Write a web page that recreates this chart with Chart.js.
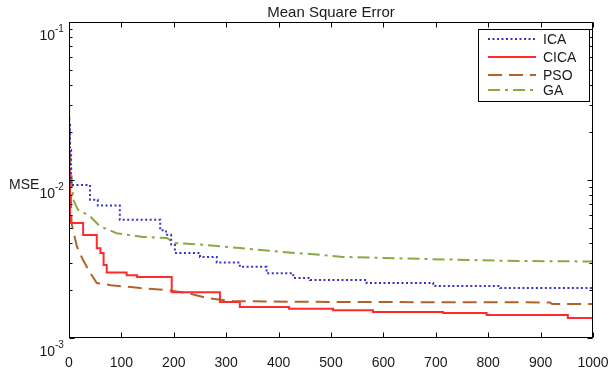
<!DOCTYPE html>
<html><head><meta charset="utf-8">
<script src="https://cdn.jsdelivr.net/npm/chart.js@4.4.0/dist/chart.umd.min.js"></script>
<style>html,body{margin:0;padding:0;background:#fff}#wrap{width:610px;height:373px}</style>
</head><body><div id="wrap"><canvas id="c" width="610" height="373"></canvas></div>
<script>
const chartTitle = 'Mean Square Error';
const yAxisLabel = 'MSE';
const seriesNames = ['ICA', 'CICA', 'PSO', 'GA'];
const xTickValues = [0, 100, 200, 300, 400, 500, 600, 700, 800, 900, 1000];
const xTickLabels = ['0', '100', '200', '300', '400', '500', '600', '700', '800', '900', '1000'];
const yTickValues = [0.001, 0.01, 0.1];
const yTickBase = ['10', '10', '10'];
const yTickExp = ['-3', '-2', '-1'];

const icaIter = [0, 2, 4, 40, 55, 97, 174, 185, 195, 202, 250, 282, 326, 377, 428, 460, 568, 695, 823, 1000];
const icaMse = [0.0223, 0.0155, 0.0093, 0.0075, 0.0069, 0.0056, 0.0048, 0.0045, 0.0039, 0.00345, 0.00326, 0.0030, 0.00282, 0.00257, 0.0024, 0.00233, 0.00223, 0.00213, 0.00207, 0.00205];

const cicaIter = [0, 2, 27, 53, 60, 66, 72, 110, 130, 196, 288, 326, 420, 504, 580, 714, 797, 952, 1000];
const cicaMse = [0.0116, 0.00535, 0.00449, 0.0037, 0.00345, 0.0029, 0.0026, 0.0025, 0.00243, 0.00195, 0.00169, 0.00157, 0.00153, 0.0015, 0.00146, 0.00144, 0.0014, 0.00134, 0.00134];

const psoIter = [0, 2, 5, 15, 27, 40, 53, 80, 136, 187, 225, 264, 314, 500, 918, 922, 1000];
const psoMse = [0.0277, 0.012, 0.0053, 0.0038, 0.0031, 0.0026, 0.00223, 0.00216, 0.00207, 0.00201, 0.00193, 0.00179, 0.00171, 0.00169, 0.00168, 0.00164, 0.00164];

const gaIter = [0, 2, 8, 17, 40, 59, 91, 141, 187, 200, 260, 326, 408, 460, 523, 683, 855, 1000];
const gaMse = [0.032, 0.015, 0.0075, 0.0065, 0.0059, 0.0051, 0.0046, 0.00436, 0.0043, 0.0040, 0.00388, 0.00371, 0.0035, 0.0034, 0.00326, 0.00316, 0.00307, 0.00305];

const FONT = '"Liberation Sans", Arial, Helvetica, sans-serif';
const TXT = '#1a1a1a';

function pts(xs, ys) { return xs.map((v, i) => ({ x: v, y: ys[i] })); }

const decor = {
  id: 'decor',
  afterDatasetsDraw(chart) {
    const { ctx, chartArea: a, scales: { x, y } } = chart;
    const L = Math.round(a.left) + 0.5, R = Math.round(a.right) - 0.5;
    const T = Math.round(a.top) + 0.5, B = Math.round(a.bottom) - 0.5;
    ctx.save();
    ctx.strokeStyle = '#000'; ctx.lineWidth = 1; ctx.setLineDash([]);
    ctx.strokeRect(L, T, R - L, B - T);
    ctx.beginPath();
    xTickValues.forEach(v => {
      const px = Math.round(x.getPixelForValue(v)) + 0.5;
      ctx.moveTo(px, B); ctx.lineTo(px, B - 5);
      ctx.moveTo(px, T); ctx.lineTo(px, T + 5);
    });
    for (let e = -3; e <= -1; e++) {
      for (let m = 1; m <= 9; m++) {
        const v = m * Math.pow(10, e);
        if (v > 0.1 + 1e-12) break;
        const py = Math.round(y.getPixelForValue(v)) + 0.5;
        const len = m === 1 ? 5 : 3;
        ctx.moveTo(L, py); ctx.lineTo(L + len, py);
        ctx.moveTo(R, py); ctx.lineTo(R - len, py);
      }
    }
    ctx.stroke();
    ctx.fillStyle = TXT;
    yTickValues.forEach((v, i) => {
      const py = y.getPixelForValue(v);
      ctx.font = '14px ' + FONT; ctx.textAlign = 'right'; ctx.textBaseline = 'middle';
      ctx.fillText(yTickBase[i], 55, py + 14);
      ctx.font = '10px ' + FONT; ctx.textAlign = 'left';
      ctx.fillText(yTickExp[i], 55, py + 7);
    });
    ctx.font = '14px ' + FONT; ctx.textAlign = 'left'; ctx.textBaseline = 'middle';
    ctx.fillText(yAxisLabel, 9, y.getPixelForValue(0.01) + 5);
    ctx.font = '15px ' + FONT; ctx.textAlign = 'center';
    ctx.fillText(chartTitle, (a.left + a.right) / 2, 13);
    const bx = 478.5, by = 29.5, bw = 111, bh = 72;
    ctx.fillStyle = '#fff'; ctx.fillRect(bx, by, bw, bh);
    ctx.strokeStyle = '#000'; ctx.lineWidth = 1; ctx.strokeRect(bx, by, bw, bh);
    const rows = [39, 57, 75, 90];
    chart.data.datasets.forEach((ds, i) => {
      const ry = rows[i];
      ctx.save();
      ctx.strokeStyle = ds.borderColor; ctx.lineWidth = ds.borderWidth;
      ctx.setLineDash(ds.borderDash || []);
      ctx.beginPath(); ctx.moveTo(488, ry); ctx.lineTo(536, ry); ctx.stroke();
      ctx.restore();
      ctx.fillStyle = TXT; ctx.font = '14px ' + FONT; ctx.textAlign = 'left'; ctx.textBaseline = 'middle';
      ctx.fillText(ds.label, 543, ry + 1);
    });
    ctx.restore();
  }
};

new Chart(document.getElementById('c'), {
  type: 'line',
  data: {
    datasets: [
      { label: seriesNames[0], data: pts(icaIter, icaMse), borderColor: '#3434c4', borderWidth: 2, borderDash: [2, 2.5], stepped: 'before', pointRadius: 0, fill: false },
      { label: seriesNames[1], data: pts(cicaIter, cicaMse), borderColor: '#ff2a2a', borderWidth: 2, borderDash: [], stepped: 'before', pointRadius: 0, fill: false },
      { label: seriesNames[2], data: pts(psoIter, psoMse), borderColor: '#b0642c', borderWidth: 2, borderDash: [14, 7], pointRadius: 0, fill: false, tension: 0 },
      { label: seriesNames[3], data: pts(gaIter, gaMse), borderColor: '#88aa44', borderWidth: 2, borderDash: [12, 5, 3, 5], pointRadius: 0, fill: false, tension: 0 }
    ]
  },
  options: {
    responsive: false,
    animation: false,
    layout: { padding: { left: 0, right: 17, top: 22, bottom: 0 } },
    plugins: { legend: { display: false }, title: { display: false }, tooltip: { enabled: false } },
    scales: {
      x: {
        type: 'linear', min: 0, max: 1000,
        afterBuildTicks: s => { s.ticks = xTickValues.map(v => ({ value: v })); },
        afterFit: s => { s.height = 35; s.paddingLeft = 0; s.paddingRight = 0; },
        grid: { display: false, drawTicks: false },
        border: { display: false },
        ticks: {
          padding: 17, color: TXT, font: { family: FONT, size: 14 }, maxRotation: 0, autoSkip: false,
          callback: (v) => { const i = xTickValues.indexOf(v); return i >= 0 ? xTickLabels[i] : ''; }
        }
      },
      y: {
        type: 'logarithmic', min: 0.001, max: 0.1,
        afterBuildTicks: s => { s.ticks = yTickValues.map(v => ({ value: v })); },
        afterFit: s => { s.width = 69; s.paddingTop = 0; s.paddingBottom = 0; },
        grid: { display: false, drawTicks: false },
        border: { display: false },
        ticks: { display: false }
      }
    }
  },
  plugins: [decor]
});
</script></body></html>
